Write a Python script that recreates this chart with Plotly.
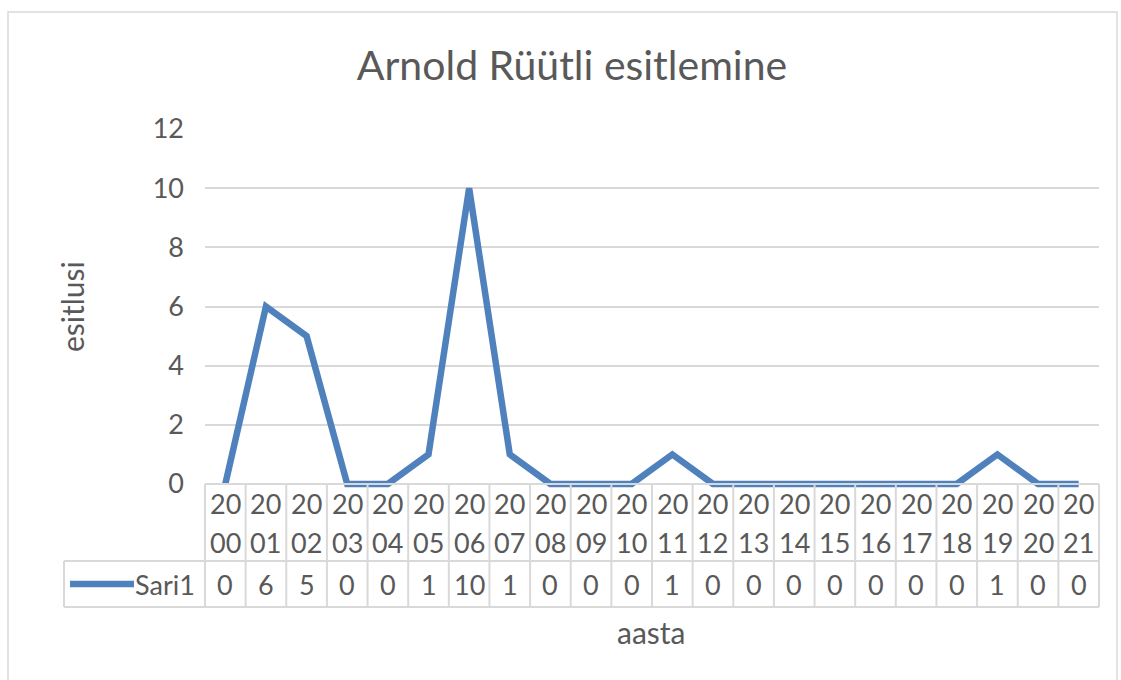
import plotly.graph_objects as go

# Data
years = list(range(2000, 2022))
esitlusi = [0, 6, 5, 0, 0, 1, 10, 1, 0, 0, 0, 1, 0, 0, 0, 0, 0, 0, 0, 1, 0, 0]
series_name = "Sari1"
chart_title = "Arnold Rüütli esitlemine"
x_title = "aasta"
y_title = "esitlusi"
y_ticks = [0, 2, 4, 6, 8, 10, 12]

# Layout in pixels
FW, FH = 1121, 680
L, R, T, B = 205, 1099, 129, 488
W, H = R - L, B - T
ZERO_Y = 484
units_per_px = 12 / (ZERO_Y - T)

blue = "#4f81bd"
grey_txt = "#595959"
grid = "#d9d9d9"
font = "Lato"


def px(x):
    return (x - L) / W


def py(y):
    return (B - y) / H


fig = go.Figure()
fig.add_trace(go.Scatter(
    x=years, y=esitlusi, mode="lines", name=series_name,
    line=dict(color=blue, width=6.5), showlegend=False,
))

shapes = []
ncat = len(years)
# outer chart border
shapes.append(dict(type="rect", xref="paper", yref="paper",
                   x0=px(8), x1=px(1117), y0=py(700), y1=py(12),
                   line=dict(color=grid, width=1.5)))
# data table horizontal lines
shapes.append(dict(type="line", xref="paper", yref="paper",
                   x0=0, x1=1, y0=py(ZERO_Y), y1=py(ZERO_Y),
                   line=dict(color=grid, width=2)))
for yy in (561, 607):
    shapes.append(dict(type="line", xref="paper", yref="paper",
                       x0=px(64), x1=1, y0=py(yy), y1=py(yy),
                       line=dict(color=grid, width=2)))
# data table vertical lines
for k in range(ncat + 1):
    shapes.append(dict(type="line", xref="paper", yref="paper",
                       x0=k / ncat, x1=k / ncat, y0=py(ZERO_Y), y1=py(607),
                       line=dict(color=grid, width=2)))
shapes.append(dict(type="line", xref="paper", yref="paper",
                   x0=px(64), x1=px(64), y0=py(561), y1=py(607),
                   line=dict(color=grid, width=2)))
# legend key inside the table
shapes.append(dict(type="line", xref="paper", yref="paper",
                   x0=px(70), x1=px(134), y0=py(584), y1=py(584),
                   line=dict(color=blue, width=6.5)))

annotations = []
cell_font = dict(family=font, size=27, color=grey_txt)
for yr, val in zip(years, esitlusi):
    s = str(yr)
    for txt, yy in ((s[:2], 503), (s[2:], 542), (str(val), 584)):
        annotations.append(dict(x=yr, xref="x", y=py(yy), yref="paper",
                                text=txt, showarrow=False,
                                xanchor="center", yanchor="middle",
                                font=cell_font))
annotations.append(dict(x=px(197), xref="paper", y=py(584), yref="paper",
                        text=series_name, showarrow=False,
                        xanchor="right", yanchor="middle", font=cell_font))
annotations.append(dict(x=px(651), xref="paper", y=py(632), yref="paper",
                        text=x_title, showarrow=False,
                        xanchor="center", yanchor="middle",
                        font=dict(family=font, size=30, color=grey_txt)))
annotations.append(dict(x=px(72), xref="paper", y=py(307), yref="paper",
                        text=y_title, showarrow=False, textangle=-90,
                        xanchor="center", yanchor="middle",
                        font=dict(family=font, size=30, color=grey_txt)))

fig.update_layout(
    width=FW, height=FH,
    margin=dict(l=L, r=FW - R, t=T, b=FH - B, pad=0),
    paper_bgcolor="white", plot_bgcolor="white",
    title=dict(text=chart_title, x=572 / FW, y=1 - 66 / FH,
               xanchor="center", yanchor="middle",
               font=dict(family=font, size=41, color=grey_txt)),
    xaxis=dict(range=[years[0] - 0.5, years[-1] + 0.5],
               showticklabels=False, showgrid=False, zeroline=False,
               showline=False, ticks=""),
    yaxis=dict(range=[-4 * units_per_px, 12], tickvals=y_ticks,
               showgrid=True, gridcolor=grid, gridwidth=2, zeroline=False,
               showline=False, ticks="", ticklabelstandoff=20,
               tickfont=dict(family=font, size=27, color=grey_txt)),
    shapes=shapes,
    annotations=annotations,
    font=dict(family=font, color=grey_txt),
)

fig.write_html("out.html", config={"displayModeBar": False},
               post_script="document.body.style.margin='0';")
